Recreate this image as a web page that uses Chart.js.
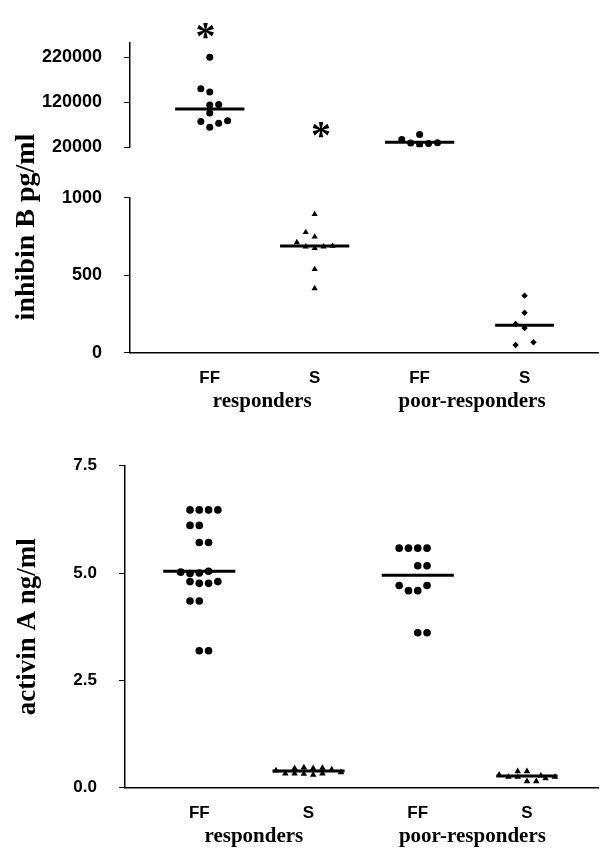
<!DOCTYPE html>
<html><head><meta charset="utf-8">
<script src="https://cdn.jsdelivr.net/npm/chart.js@4.4.1/dist/chart.umd.min.js"></script>
<style>
html,body{margin:0;padding:0;background:#fff;}
#wrap{position:relative;width:602px;height:849px;overflow:hidden;background:#fff;}
canvas{position:absolute;left:0;}
</style></head><body>
<div id="wrap">
<canvas id="tLow" width="602" height="420" style="top:0"></canvas>
<canvas id="tHigh" width="602" height="180" style="top:0"></canvas>
<canvas id="bot" width="602" height="429" style="top:420px"></canvas>
</div>
<script>
// ---------- categories ----------
const catLabels = ['FF', 'S', 'FF', 'S'];
const groupLabels = ['responders', 'poor-responders'];
const yTitles = ['inhibin B pg/ml', 'activin A ng/ml'];

// ---------- inhibin B (pg/ml) ----------
const inhFFResp     = [220000, 150000, 142700, 114100, 114800, 96000, 77300, 73300, 79000, 64400];
const inhFFRespSlot = [0, -1, 0, 0, 1, 0, -1, 1, 2, 0];
const inhSResp      = [893, 777, 748, 712, 684, 674, 684, 688, 538, 415];
const inhSRespSlot  = [0, -1, 0, -2, -1, 0, 1, 2, 0, 0];
const inhFFPoor     = [37000, 48000, 29400, 25200, 28200, 30000];
const inhFFPoorSlot = [-2, 0, -1, 0, 1, 2];
const inhSPoor      = [368, 258, 185, 159, 50, 67];
const inhSPoorSlot  = [0, 0, -1, 0, -1, 1];
const inhMedians    = [105300, 688, 31200, 177];
const inhTicksHigh  = [20000, 120000, 220000];
const inhTicksLow   = [0, 500, 1000];
const starX         = [0.96, 2.06];
const starVals      = [270000, 48700];

// ---------- activin A (ng/ml) ----------
const actFFResp     = [6.47, 6.47, 6.47, 6.47, 6.11, 6.11, 5.71, 5.71, 5.02, 4.99, 5.00, 5.04, 4.80, 4.76, 4.76, 4.80, 4.35, 4.35, 3.19, 3.19];
const actFFRespSlot = [-1, 0, 1, 2, -1, 0, 0, 1, -2, -1, 0, 1, -1, 0, 1, 2, -1, 0, 0, 1];
const actSResp      = [0.40, 0.33, 0.45, 0.33, 0.47, 0.32, 0.30, 0.45, 0.46, 0.33, 0.42, 0.36];
const actSRespSlot  = [-3.5, -2.5, -1.5, -1.5, -0.5, -0.5, 0.5, 0.5, 1.5, 1.5, 2.5, 3.5];
const actFFPoor     = [5.58, 5.58, 5.58, 5.58, 5.17, 5.17, 4.71, 4.59, 4.59, 4.71, 3.61, 3.61];
const actFFPoorSlot = [-2, -1, 0, 1, 0, 1, -2, -1, 0, 1, 0, 1];
const actSPoor      = [0.30, 0.25, 0.38, 0.25, 0.38, 0.15, 0.15, 0.28, 0.22, 0.25];
const actSPoorSlot  = [-3, -2, -1, -1, 0, 0, 1, 1.5, 2, 3];
const actMedians    = [5.04, 0.39, 4.95, 0.27];
const actTicks      = [0, 2.5, 5, 7.5];
const actTickLabels = ['0.0', '2.5', '5.0', '7.5'];

// ---------- styling ----------
const sans = "'Liberation Sans', Arial, sans-serif";
const serif = "'Liberation Serif', 'Times New Roman', serif";
const slotW = 0.085;
const medianHalf = [0.33, 0.33, 0.33, 0.28];

function pts(vals, slots, cat, keep) {
  return vals.map((v, i) => ({x: cat + slots[i] * slotW, y: v})).filter(p => keep(p.y));
}
function scatterSet(data, style, r) {
  return {type: 'scatter', data, pointStyle: style, pointRadius: r, pointHoverRadius: r,
    backgroundColor: '#000', borderColor: '#000', borderWidth: 0, order: 2};
}
function medianSet(medians, i, keep) {
  const m = medians[i];
  const data = keep(m) ? [{x: i + 1 - medianHalf[i], y: m}, {x: i + 1 + medianHalf[i], y: m}] : [];
  return {type: 'line', data, borderColor: '#000', borderWidth: 3, pointRadius: 0, showLine: true, order: 0};
}
function yAxis(ticksArr, min, max, labels, w, size) {
  return {
    type: 'linear', position: 'left', min, max,
    afterBuildTicks: s => { s.ticks = ticksArr.map(v => ({value: v})); },
    afterFit: s => { s.width = w; },
    ticks: {color: '#000', font: {family: sans, size, weight: 'bold'}, padding: 22,
      callback: (v, i) => labels ? labels[i] : String(v)},
    grid: {display: true, drawOnChartArea: false, drawTicks: true, tickLength: 6, color: '#000', lineWidth: 1},
    border: {display: true, color: '#000', width: 1.5}
  };
}
function xAxes(min, max, h1, h2, pad1) {
  return {
    x: {
      type: 'linear', position: 'bottom', min, max,
      afterBuildTicks: s => { s.ticks = catLabels.map((c, i) => ({value: i + 1})); },
      afterFit: s => { s.height = h1; },
      ticks: {color: '#000', font: {family: sans, size: 17, weight: 'bold'}, padding: pad1,
        callback: (v, i) => catLabels[i]},
      grid: {display: false, drawTicks: false},
      border: {display: true, color: '#000', width: 1.5}
    },
    x2: {
      type: 'linear', position: 'bottom', min, max,
      afterBuildTicks: s => { s.ticks = groupLabels.map((g, i) => ({value: 1.5 + 2 * i})); },
      afterFit: s => { s.height = h2; },
      ticks: {color: '#000', font: {family: serif, size: 21, weight: 'bold'}, padding: 0,
        callback: (v, i) => groupLabels[i]},
      grid: {display: false, drawTicks: false},
      border: {display: false}
    }
  };
}
const noPlugins = {legend: {display: false}, tooltip: {enabled: false}};

const isHigh = v => v >= 10000;
const isLow = v => v <= 1000;

const vTitlePlugin = {
  id: 'vTitle',
  afterDraw(chart, args, opts) {
    const ctx = chart.ctx;
    ctx.save();
    ctx.translate(opts.x, opts.y);
    ctx.rotate(-Math.PI / 2);
    ctx.font = 'bold 28px ' + serif;
    ctx.fillStyle = '#000';
    ctx.textAlign = 'center';
    ctx.textBaseline = 'middle';
    ctx.fillText(opts.text, 0, 0);
    ctx.restore();
  }
};
const starPlugin = {
  id: 'stars',
  afterDatasetsDraw(chart) {
    const ctx = chart.ctx, xs = chart.scales.x, ys = chart.scales.y;
    ctx.save();
    ctx.font = 'bold 40px ' + serif;
    ctx.fillStyle = '#000';
    ctx.textAlign = 'center';
    ctx.textBaseline = 'alphabetic';
    starX.forEach((sx, i) => {
      ctx.fillText('*', xs.getPixelForValue(sx), ys.getPixelForValue(starVals[i]) + 14);
    });
    ctx.restore();
  }
};

// ---------- top panel, lower segment ----------
const topMin = 0.24, topMax = 4.70;
new Chart(document.getElementById('tLow'), {
  type: 'scatter',
  data: {datasets: [
    scatterSet(pts(inhSResp, inhSRespSlot, 2, isLow), 'triangle', 3.6),
    scatterSet(pts(inhSPoor, inhSPoorSlot, 4, isLow), 'rectRot', 3.2),
    scatterSet(pts(inhFFResp, inhFFRespSlot, 1, isLow), 'circle', 3.5),
    scatterSet(pts(inhFFPoor, inhFFPoorSlot, 3, isLow), 'circle', 3.5),
    ...inhMedians.map((m, i) => medianSet(inhMedians, i, isLow))
  ]},
  options: {
    responsive: false, animation: false,
    layout: {autoPadding: false, padding: {top: 197.7, right: 4, bottom: 0, left: 0}},
    scales: Object.assign({y: yAxis(inhTicksLow, 0, 1000, null, 130, 18)}, xAxes(topMin, topMax, 36, 31.3, 15)),
    plugins: Object.assign({vTitle: {text: yTitles[0], x: 27, y: 227}}, noPlugins)
  },
  plugins: [vTitlePlugin]
});

// ---------- top panel, upper segment ----------
new Chart(document.getElementById('tHigh'), {
  type: 'scatter',
  data: {datasets: [
    scatterSet(pts(inhFFResp, inhFFRespSlot, 1, isHigh), 'circle', 3.5),
    scatterSet(pts(inhFFPoor, inhFFPoorSlot, 3, isHigh), 'circle', 3.5),
    scatterSet(pts(inhSResp, inhSRespSlot, 2, isHigh), 'triangle', 3.6),
    scatterSet(pts(inhSPoor, inhSPoorSlot, 4, isHigh), 'rectRot', 3.2),
    ...inhMedians.map((m, i) => medianSet(inhMedians, i, isHigh))
  ]},
  options: {
    responsive: false, animation: false,
    layout: {autoPadding: false, padding: {top: 43, right: 4, bottom: 5.3, left: 0}},
    scales: {
      x: {type: 'linear', display: false, min: topMin, max: topMax},
      y: yAxis(inhTicksHigh, 20000, 252000, null, 130, 18)
    },
    plugins: noPlugins
  },
  plugins: [starPlugin]
});

// ---------- bottom panel ----------
const botMin = 0.32, botMax = 4.65;
const yb = yAxis(actTicks, 0, 7.5, actTickLabels, 125, 17);
yb.title = {display: true, text: yTitles[1], color: '#000', font: {family: serif, size: 27, weight: 'bold'}, padding: {top: 12, bottom: 0}};
new Chart(document.getElementById('bot'), {
  type: 'scatter',
  data: {datasets: [
    scatterSet(pts(actFFResp, actFFRespSlot, 1, () => true), 'circle', 3.8),
    scatterSet(pts(actSResp, actSRespSlot, 2, () => true), 'triangle', 3.8),
    scatterSet(pts(actFFPoor, actFFPoorSlot, 3, () => true), 'circle', 3.8),
    scatterSet(pts(actSPoor, actSPoorSlot, 4, () => true), 'triangle', 3.8),
    ...actMedians.map((m, i) => medianSet(actMedians, i, () => true))
  ]},
  options: {
    responsive: false, animation: false,
    layout: {autoPadding: false, padding: {top: 45.7, right: 4, bottom: 0, left: 0}},
    scales: Object.assign({y: yb}, xAxes(botMin, botMax, 36, 25.3, 15)),
    plugins: noPlugins
  }
});
</script>
</body></html>
